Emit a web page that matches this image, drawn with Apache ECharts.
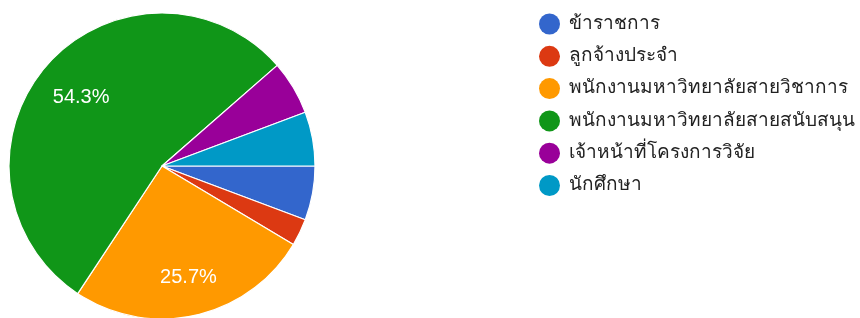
<!DOCTYPE html>
<html>
<head>
<meta charset="utf-8">
<script src="https://cdn.jsdelivr.net/npm/echarts@6/dist/echarts.min.js"></script>
<style>
html,body{margin:0;padding:0;background:#fff;}
#c{width:860px;height:318px;}
</style>
</head>
<body>
<div id="c"></div>
<script>
const categories = ['ข้าราชการ','ลูกจ้างประจำ','พนักงานมหาวิทยาลัยสายวิชาการ','พนักงานมหาวิทยาลัยสายสนับสนุน','เจ้าหน้าที่โครงการวิจัย','นักศึกษา'];
const counts = [2, 1, 9, 19, 2, 2];
const colors = ['#3366cc','#dc3912','#ff9900','#109618','#990099','#0099c6'];

const data = categories.map((name, i) => ({ name: name, value: counts[i] }));
const total = counts.reduce((a, b) => a + b, 0);

const chart = echarts.init(document.getElementById('c'), null, { renderer: 'canvas' });
chart.setOption({
  animation: false,
  color: colors,
  legend: {
    orient: 'vertical',
    left: 534,
    top: 8.5,
    padding: 5,
    icon: 'circle',
    itemWidth: 21,
    itemHeight: 21,
    itemGap: 11.3,
    itemStyle: { borderWidth: 0 },
    textStyle: { fontSize: 19, lineHeight: 21, color: '#222', fontFamily: 'Roboto, Arial, sans-serif', padding: [0, 0, 0, 4] },
    data: categories
  },
  series: [
    {
      type: 'pie',
      center: [162, 166],
      radius: [0, 153],
      startAngle: 0,
      clockwise: true,
      silent: true,
      label: { show: false },
      labelLine: { show: false },
      itemStyle: { borderColor: '#fff', borderWidth: 1.2 },
      data: data
    },
    {
      type: 'pie',
      center: [162, 166],
      radius: [0, 214],
      startAngle: 0,
      clockwise: true,
      silent: true,
      legendHoverLink: false,
      itemStyle: { color: 'rgba(0,0,0,0)', borderWidth: 0 },
      emphasis: { disabled: true },
      label: {
        show: true,
        position: 'inside',
        color: '#fff',
        fontSize: 20,
        offset: [2, 4],
        fontFamily: 'Arial, Liberation Sans, sans-serif',
        formatter: function (p) { return p.value / total >= 0.1 ? p.percent.toFixed(1) + '%' : ''; }
      },
      labelLine: { show: false },
      data: categories.map((name, i) => ({ name: name + ' ', value: counts[i] }))
    }
  ]
});
</script>
</body>
</html>
